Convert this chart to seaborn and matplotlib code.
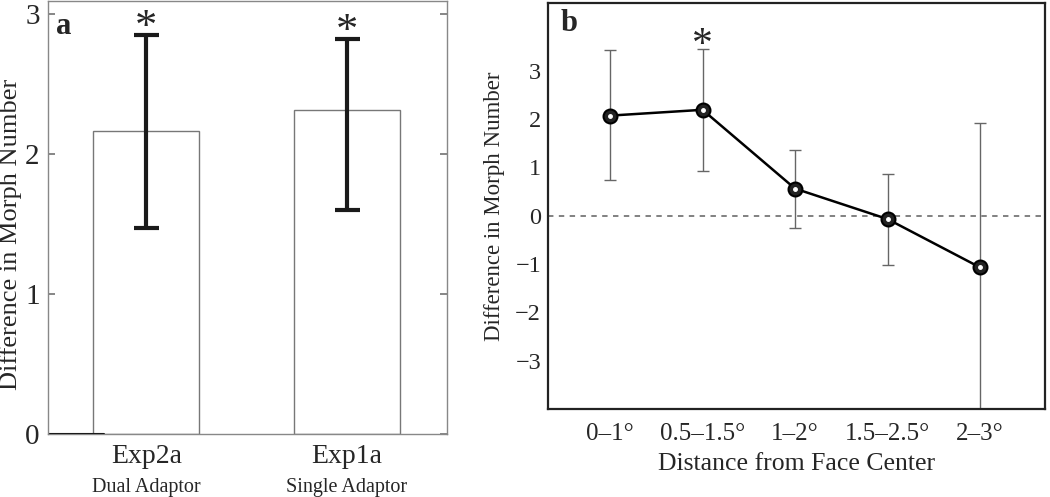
import numpy as np
import pandas as pd
import matplotlib
matplotlib.use("Agg")
import matplotlib.pyplot as plt
import seaborn as sns

# panel a data
exp_names = ["Exp2a", "Exp1a"]
exp_sub = ["Dual Adaptor", "Single Adaptor"]
exp_mean = [2.16, 2.31]
exp_lo = [1.47, 1.60]
exp_hi = [2.85, 2.82]

# panel b data
dist_labels = ["0\u20131\u00b0", "0.5\u20131.5\u00b0", "1\u20132\u00b0", "1.5\u20132.5\u00b0", "2\u20133\u00b0"]
dist_mean = [2.07, 2.19, 0.56, -0.07, -1.07]
dist_lo = [0.73, 0.92, -0.25, -1.02, -4.10]
dist_hi = [3.42, 3.45, 1.36, 0.87, 1.92]
dist_sig = [False, True, False, False, False]

sns.set_theme(style="white")
plt.rcParams["font.family"] = ["Liberation Serif", "DejaVu Serif"]

fig = plt.figure(figsize=(10.5, 4.97), dpi=100)

# ---------- panel a ----------
ax1 = fig.add_axes([0.0457, 0.1268, 0.38, 0.871])
df_a = pd.DataFrame({"exp": exp_names, "mean": exp_mean})
sns.barplot(data=df_a, x="exp", y="mean", color="white", edgecolor="#777777",
            linewidth=1.0, width=0.53, errorbar=None, ax=ax1)
xa = np.arange(len(exp_names))
mean_a = np.array(exp_mean)
ax1.errorbar(xa, mean_a, yerr=[mean_a - np.array(exp_lo), np.array(exp_hi) - mean_a],
             fmt="none", ecolor="#1a1a1a", elinewidth=3, capsize=9, capthick=3)
for x, h in zip(xa, exp_hi):
    ax1.text(x, h - 0.03, "*", ha="center", va="baseline", fontsize=32)
ax1.axhline(0, xmin=0, xmax=0.14, color="black", lw=1.5)
ax1.set_xlim(-0.49, 1.5)
ax1.set_ylim(0, 3.09)
ax1.set_yticks([0, 1, 2, 3])
ax1.set_xticks(xa)
ax1.set_xticklabels(exp_names, fontsize=20)
for x, s in zip(xa, exp_sub):
    ax1.text(x, -0.315, s, ha="center", va="top", fontsize=14.5,
             transform=ax1.transData, clip_on=False)
ax1.set_xlabel("")
ax1.set_ylabel("Difference in Morph Number", fontsize=19)
ax1.yaxis.set_label_coords(-0.066, 0.46)
ax1.tick_params(axis="y", labelsize=21, direction="in", length=5, color="#777777",
                right=True, left=True, pad=6)
ax1.tick_params(axis="x", length=0, pad=7)
for sp in ax1.spines.values():
    sp.set_color("#888888")
    sp.set_linewidth(1.0)
ax1.text(0.02, 0.975, "a", transform=ax1.transAxes, fontsize=22, fontweight="bold",
         ha="left", va="top")

# ---------- panel b ----------
ax2 = fig.add_axes([0.522, 0.177, 0.473, 0.817])
xb = np.arange(len(dist_labels))
df_b = pd.DataFrame({"x": xb, "mean": dist_mean})
mean_b = np.array(dist_mean)
ax2.axhline(0, color="#777777", lw=1.3, ls=(0, (3, 3)), zorder=1)
ax2.errorbar(xb, mean_b, yerr=[mean_b - np.array(dist_lo), np.array(dist_hi) - mean_b],
             fmt="none", ecolor="#666666", elinewidth=1.0, capsize=4, capthick=1.0, zorder=2)
sns.lineplot(data=df_b, x="x", y="mean", color="black", lw=1.8, marker="o",
             markersize=10, markerfacecolor="#222222", markeredgecolor="black",
             markeredgewidth=1.5, ax=ax2, zorder=3)
ax2.plot(xb, mean_b, ls="none", marker="o", markersize=2.5, markerfacecolor="white",
         markeredgecolor="white", zorder=4)
for x, h, s in zip(xb, dist_hi, dist_sig):
    if s:
        ax2.text(x, h - 0.15, "*", ha="center", va="baseline", fontsize=30)
ax2.set_xlim(-0.67, 4.7)
ax2.set_ylim(-4.0, 4.4)
ax2.set_yticks([-3, -2, -1, 0, 1, 2, 3])
ax2.set_yticklabels(["\u22123", "\u22122", "\u22121", "0", "1", "2", "3"])
ax2.set_xticks(xb)
ax2.set_xticklabels(dist_labels, fontsize=18)
ax2.set_xlabel("Distance from Face Center", fontsize=18.5, labelpad=6)
ax2.set_ylabel("Difference in Morph Number", fontsize=16.5)
ax2.yaxis.set_label_coords(-0.086, 0.5)
ax2.tick_params(axis="y", length=0, labelsize=17.5, pad=5)
ax2.tick_params(axis="x", length=0, pad=10)
for sp in ax2.spines.values():
    sp.set_color("#222222")
    sp.set_linewidth(1.6)
ax2.text(0.025, 0.985, "b", transform=ax2.transAxes, fontsize=22, fontweight="bold",
         ha="left", va="top")

fig.savefig("out.png", dpi=100)
